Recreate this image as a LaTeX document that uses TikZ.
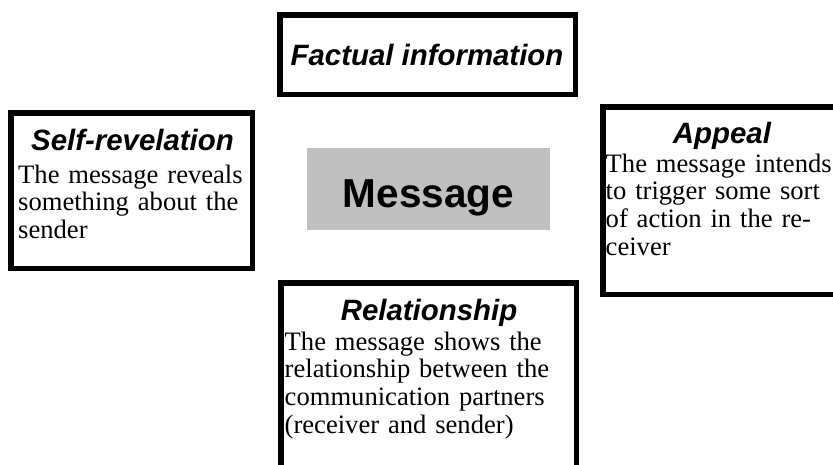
\documentclass[tikz,border=0pt]{standalone}
\usepackage{fontspec}
\setmainfont{Liberation Serif}
\setsansfont{Liberation Sans}
\begin{document}
\begin{tikzpicture}[x=1pt,y=-1pt,
  frame/.style={draw=black, line width=5.5pt, fill=white, inner sep=0pt},
  greybox/.style={fill=greyfill, draw=none, inner sep=0pt},
  titletext/.style={font=\fontsize{29.4}{30}\selectfont\sffamily\bfseries\itshape, anchor=base, inner sep=0pt},
  bodytext/.style={font=\fontsize{26.6}{27.8}\selectfont, anchor=base west, inner sep=0pt, text width=320pt, align=left},
  msgtext/.style={font=\fontsize{40.5}{42}\selectfont\sffamily\bfseries, anchor=base, inner sep=0pt}
]
\definecolor{greyfill}{RGB}{192,192,192}
\useasboundingbox (0,0) rectangle (833,464);
\clip (0,0) rectangle (833,464);
\fill[white] (0,0) rectangle (833,464);

% boxes
\node[frame, minimum width=295.5pt, minimum height=79.5pt] (factbox) at (427.5,54.5) {};
\node[frame, minimum width=241.5pt, minimum height=155.5pt] (selfbox) at (131.5,190.5) {};
\node[frame, minimum width=238.5pt, minimum height=187.5pt] (appealbox) at (722,200.5) {};
\node[frame, minimum width=295.5pt, minimum height=204.5pt] (relbox) at (428.5,385) {};
\node[greybox, minimum width=243pt, minimum height=82pt] (msgbox) at (428.5,189) {};

% texts
\node[titletext] (facttitle) at (427,65) {Factual information};
\node[msgtext] (msgtitle) at (428.5,207) {Message};

\node[titletext] (selftitle) at (132.5,150) {Self-revelation};
\node[bodytext] (selfbody) at (18,183) {The message reveals\\something about the\\sender};

\node[titletext] (appealtitle) at (722,143) {Appeal};
\node[bodytext] (appealbody) at (605.5,172) {The message intends\\to trigger some sort\\of action in the re-\\ceiver};

\node[titletext] (reltitle) at (429,320) {Relationship};
\node[bodytext] (relbody) at (284.5,350) {The message shows the\\relationship between the\\communication partners\\(receiver and sender)};
\end{tikzpicture}
\end{document}
